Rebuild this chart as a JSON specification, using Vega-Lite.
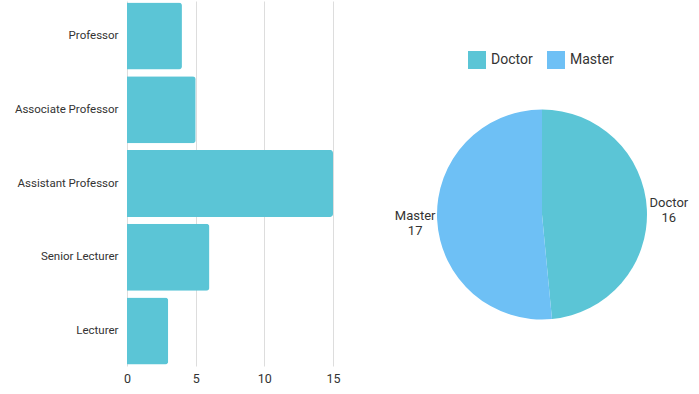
{
  "$schema": "https://vega.github.io/schema/vega-lite/v6.json",
  "padding": {"left": 14, "top": 1, "right": 2, "bottom": 2},
  "background": "white",
  "spacing": 53,
  "resolve": {"scale": {"color": "independent"}, "legend": {"color": "independent"}},
  "config": {
    "view": {"stroke": null},
    "font": "Roboto",
    "axis": {"labelColor": "#333333", "labelFont": "Roboto", "labelFontSize": 11.5, "titleFontSize": 12},
    "legend": {"labelFont": "Roboto"}
  },
  "hconcat": [
    {
      "width": 206,
      "height": 365,
      "data": {
        "values": [
          {"rank": "Professor", "count": 4},
          {"rank": "Associate Professor", "count": 5},
          {"rank": "Assistant Professor", "count": 15},
          {"rank": "Senior Lecturer", "count": 6},
          {"rank": "Lecturer", "count": 3}
        ]
      },
      "mark": {"type": "bar", "color": "#5bc5d6", "cornerRadiusEnd": 3},
      "encoding": {
        "y": {
          "field": "rank",
          "type": "nominal",
          "sort": null,
          "title": null,
          "scale": {"paddingInner": 0.09, "paddingOuter": 0.02},
          "axis": {"domain": false, "ticks": false, "labelPadding": 9, "minExtent": 112, "maxExtent": 112}
        },
        "x": {
          "field": "count",
          "type": "quantitative",
          "title": null,
          "scale": {"domain": [0, 15], "nice": false},
          "axis": {"values": [0, 5, 10, 15], "domain": false, "ticks": false, "grid": true, "gridColor": "#dddddd", "labelPadding": 6, "labelFontSize": 12.5, "labelFlush": false}
        }
      }
    },
    {
      "width": 248,
      "height": 365,
      "data": {
        "values": [
          {"degree": "Doctor", "count": 16},
          {"degree": "Master", "count": 17}
        ]
      },
      "transform": [
        {"calculate": "[datum.degree, '' + datum.count]", "as": "label"}
      ],
      "encoding": {
        "theta": {"field": "count", "type": "quantitative", "stack": true},
        "y": {"datum": 0.585, "type": "quantitative", "scale": {"domain": [0, 1], "reverse": true}, "axis": null}
      },
      "layer": [
        {
          "mark": {"type": "arc", "outerRadius": 105},
          "encoding": {
            "color": {
              "field": "degree",
              "type": "nominal",
              "scale": {"domain": ["Doctor", "Master"], "range": ["#5bc5d6", "#6ec0f5"]},
              "legend": {
                "title": null,
                "orient": "none",
                "legendX": 50,
                "legendY": 50,
                "direction": "horizontal",
                "symbolType": "square",
                "symbolSize": 324,
                "symbolStrokeWidth": 0,
                "symbolOpacity": 1,
                "labelFontSize": 14,
                "labelColor": "#333333",
                "labelOffset": 5,
                "columnPadding": 14
              }
            }
          }
        },
        {
          "mark": {"type": "text", "radius": 127, "fontSize": 13, "color": "#333333", "align": "center", "baseline": "middle", "dy": -5},
          "encoding": {
            "text": {"field": "label"},
            "detail": {"field": "degree"}
          }
        }
      ]
    }
  ]
}
